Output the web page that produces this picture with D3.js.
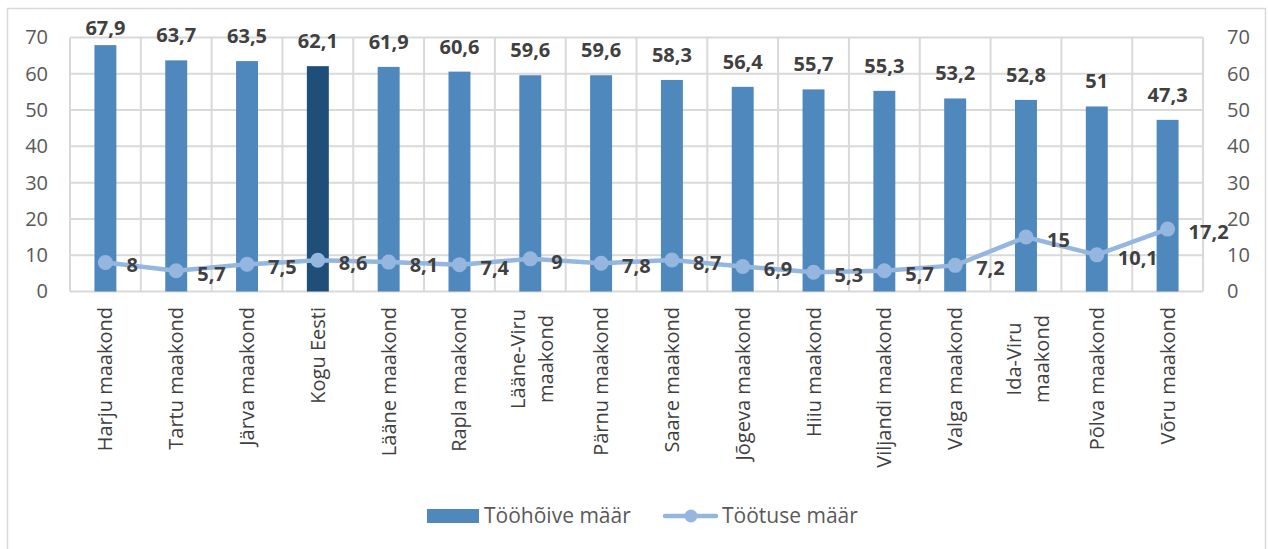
<!DOCTYPE html>
<html lang="et">
<head>
    <meta charset="UTF-8">
    <title>Tööhõive ja töötuse määr maakonniti</title>
    <script src="https://d3js.org/d3.v7.min.js"></script>
    <style>
        body {
            margin: 0;
            background: #fff;
            font-family: 'Open Sans', sans-serif;
        }
        .axis path, .axis line {
            display: none;
        }
        .grid line {
            stroke: #d9d9d9;
            stroke-width: 2;
        }
        .valueLabel {
            font-size: 20px;
            font-weight: bold;
            fill: #404040;
        }
        .catLabel {
            font-size: 20px;
            fill: #404040;
        }
        .legend text {
            font-size: 21px;
            fill: #595959;
        }
    </style>
</head>
<body>
<div id="chart"></div>
<script>
    // data
    const categories = [
        "Harju maakond", "Tartu maakond", "Järva maakond", "Kogu Eesti",
        "Lääne maakond", "Rapla maakond", "Lääne-Viru maakond", "Pärnu maakond",
        "Saare maakond", "Jõgeva maakond", "Hiiu maakond", "Viljandi maakond",
        "Valga maakond", "Ida-Viru maakond", "Põlva maakond", "Võru maakond"
    ];
    const employmentRate = [67.9, 63.7, 63.5, 62.1, 61.9, 60.6, 59.6, 59.6, 58.3, 56.4, 55.7, 55.3, 53.2, 52.8, 51, 47.3];
    const unemploymentRate = [8, 5.7, 7.5, 8.6, 8.1, 7.4, 9, 7.8, 8.7, 6.9, 5.3, 5.7, 7.2, 15, 10.1, 17.2];
    const yTicks = [0, 10, 20, 30, 40, 50, 60, 70];
    const seriesNames = ["Tööhõive määr", "Töötuse määr"];
    const highlighted = "Kogu Eesti";

    const W = 1268, H = 549;
    const plot = { left: 70, right: 1203, top: 37.5, bottom: 291.5 };

    const barColor = "#4f88bd";
    const highlightColor = "#1f4e79";
    const lineColor = "#95b6df";

    const fmt = v => String(v).replace(".", ",");

    const svg = d3.select("#chart").append("svg")
        .attr("width", W)
        .attr("height", H);

    // chart frame
    svg.append("rect")
        .attr("x", 7.5).attr("y", 8.5)
        .attr("width", 1258).attr("height", 560)
        .attr("fill", "none")
        .attr("stroke", "#d9d9d9")
        .attr("stroke-width", 1.5);

    const x = d3.scaleBand()
        .domain(categories)
        .range([plot.left, plot.right])
        .paddingInner(0)
        .paddingOuter(0);

    const y = d3.scaleLinear()
        .domain([0, 70])
        .range([plot.bottom, plot.top]);

    // horizontal gridlines
    svg.append("g").attr("class", "grid")
        .selectAll("line")
        .data(yTicks)
        .join("line")
        .attr("x1", plot.left).attr("x2", plot.right)
        .attr("y1", d => y(d)).attr("y2", d => y(d));

    // vertical gridlines at band edges
    const edges = categories.map(c => x(c)).concat([x(categories[categories.length - 1]) + x.bandwidth()]);
    svg.append("g").attr("class", "grid")
        .selectAll("line")
        .data(edges)
        .join("line")
        .attr("x1", d => d).attr("x2", d => d)
        .attr("y1", plot.top).attr("y2", plot.bottom);

    // axes
    const styleAxis = g => g.selectAll("text")
        .style("font-size", "20px")
        .style("font-family", "'Open Sans', sans-serif")
        .style("fill", "#595959");

    svg.append("g").attr("class", "axis")
        .attr("transform", `translate(${plot.left - 22},0)`)
        .call(d3.axisLeft(y).tickValues(yTicks).tickSize(0).tickPadding(0))
        .call(styleAxis);

    svg.append("g").attr("class", "axis")
        .attr("transform", `translate(${plot.right + 24},0)`)
        .call(d3.axisRight(y).tickValues(yTicks).tickSize(0).tickPadding(0))
        .call(styleAxis);

    // bars
    const barW = x.bandwidth() * 0.31;
    svg.append("g")
        .selectAll("rect")
        .data(categories)
        .join("rect")
        .attr("x", (d) => x(d) + (x.bandwidth() - barW) / 2)
        .attr("y", (d, i) => y(employmentRate[i]))
        .attr("width", barW)
        .attr("height", (d, i) => y(0) - y(employmentRate[i]))
        .attr("fill", d => d === highlighted ? highlightColor : barColor);

    // bar labels
    svg.append("g")
        .selectAll("text")
        .data(categories)
        .join("text")
        .attr("class", "valueLabel")
        .attr("x", d => x(d) + x.bandwidth() / 2)
        .attr("y", (d, i) => Math.max(y(employmentRate[i]) - 18, 35))
        .attr("text-anchor", "middle")
        .text((d, i) => fmt(employmentRate[i]));

    // unemployment line
    const cx = d => x(d) + x.bandwidth() / 2;
    const line = d3.line()
        .x((d, i) => cx(categories[i]))
        .y(d => y(d));

    svg.append("path")
        .datum(unemploymentRate)
        .attr("d", line)
        .attr("fill", "none")
        .attr("stroke", lineColor)
        .attr("stroke-width", 4.5)
        .attr("stroke-linejoin", "round");

    svg.append("g")
        .selectAll("circle")
        .data(unemploymentRate)
        .join("circle")
        .attr("cx", (d, i) => cx(categories[i]))
        .attr("cy", d => y(d))
        .attr("r", 7.5)
        .attr("fill", lineColor);

    svg.append("g")
        .selectAll("text")
        .data(unemploymentRate)
        .join("text")
        .attr("class", "valueLabel")
        .attr("x", (d, i) => cx(categories[i]) + 21)
        .attr("y", d => y(d) + 10)
        .text(d => fmt(d));

    // category labels, rotated; long names wrap on two lines
    const catG = svg.append("g")
        .selectAll("g")
        .data(categories)
        .join("g")
        .attr("transform", d => `translate(${cx(d)},307) rotate(-90)`);

    catG.each(function(d) {
        const parts = d.includes("-") ? d.split(" ") : [d];
        const t = d3.select(this).append("text")
            .attr("class", "catLabel")
            .attr("text-anchor", parts.length > 1 ? "middle" : "end");
        parts.forEach((p, k) => {
            t.append("tspan")
                .attr("x", parts.length > 1 ? -52 : 0)
                .attr("y", parts.length > 1 ? (k === 0 ? -5 : 23) : 7)
                .text(p);
        });
    });

    // legend
    const legend = svg.append("g").attr("class", "legend");
    legend.append("rect")
        .attr("x", 427).attr("y", 509)
        .attr("width", 52).attr("height", 14)
        .attr("fill", barColor);
    legend.append("text")
        .attr("x", 484).attr("y", 523)
        .text(seriesNames[0]);

    legend.append("line")
        .attr("x1", 665).attr("x2", 716)
        .attr("y1", 516).attr("y2", 516)
        .attr("stroke", lineColor)
        .attr("stroke-width", 4.5)
        .attr("stroke-linecap", "round");
    legend.append("circle")
        .attr("cx", 691).attr("cy", 516).attr("r", 6.5)
        .attr("fill", lineColor);
    legend.append("text")
        .attr("x", 722).attr("y", 523)
        .text(seriesNames[1]);
</script>
</body>
</html>
